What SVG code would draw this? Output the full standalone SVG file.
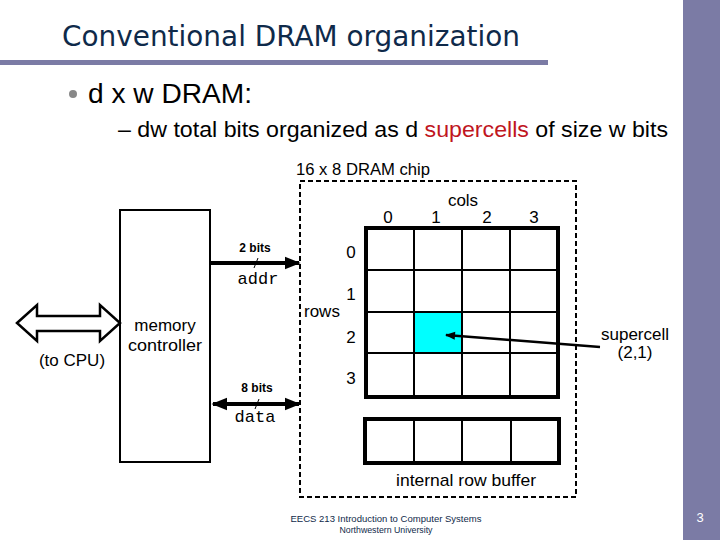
<svg xmlns="http://www.w3.org/2000/svg" width="720" height="540" viewBox="0 0 720 540">
<defs>
<style>
.a{font-family:"Liberation Sans",Arial,sans-serif;fill:#000}
.m{font-family:"Liberation Mono","Courier New",monospace;fill:#000}
.lbl{font-size:17px}
.thin{fill:none;stroke:#000;stroke-width:2}
</style>
<marker id="ah" viewBox="0 0 10 10" refX="9" refY="5" markerWidth="4" markerHeight="4" orient="auto-start-reverse" markerUnits="strokeWidth">
<path d="M0,1 L10,5 L0,9 z" fill="#000"/>
</marker>
<marker id="ah2" viewBox="0 0 10 10" refX="9" refY="5" markerWidth="5" markerHeight="4" orient="auto" markerUnits="strokeWidth">
<path d="M0,1 L10,5 L0,9 z" fill="#000"/>
</marker>
</defs>
<rect width="720" height="540" fill="#fff"/>
<rect x="683" y="0" width="37" height="540" fill="#7B7BA5"/>
<rect x="0" y="60" width="548" height="5" fill="#7B7BA5"/>
<text x="62" y="46" font-family="'DejaVu Sans',Verdana,sans-serif" font-size="28" fill="#0F2A4A" textLength="458" lengthAdjust="spacingAndGlyphs">Conventional DRAM organization</text>
<circle cx="73" cy="94" r="4" fill="#888"/>
<text class="a" x="88" y="103" font-size="27" textLength="164" lengthAdjust="spacingAndGlyphs">d x w DRAM:</text>
<text class="a" x="118" y="137" font-size="22" textLength="550" lengthAdjust="spacingAndGlyphs">– dw total bits organized as d <tspan fill="#C0161E">supercells</tspan> of size w bits</text>
<text class="a" x="296" y="175" font-size="16" textLength="134" lengthAdjust="spacingAndGlyphs">16 x 8 DRAM chip</text>

<g id="chip">
<rect x="300" y="181" width="276" height="316" fill="none" stroke="#000" stroke-width="2" stroke-dasharray="5,3"/>
</g>

<g id="array">
<rect x="414" y="312" width="48" height="41" fill="#00FFFF"/>
<path class="thin" d="M414,228V397M462,228V397M510,228V397M366,270H558M366,312H558M366,353H558"/>
<rect x="366" y="228" width="192" height="169" fill="none" stroke="#000" stroke-width="4"/>
<text class="a lbl" x="463" y="206" text-anchor="middle">cols</text>
<text class="a lbl" x="388" y="223" text-anchor="middle">0</text>
<text class="a lbl" x="436" y="223" text-anchor="middle">1</text>
<text class="a lbl" x="487" y="223" text-anchor="middle">2</text>
<text class="a lbl" x="534" y="223" text-anchor="middle">3</text>
<text class="a lbl" x="351" y="258" text-anchor="middle">0</text>
<text class="a lbl" x="351" y="300" text-anchor="middle">1</text>
<text class="a lbl" x="351" y="343" text-anchor="middle">2</text>
<text class="a lbl" x="351" y="384" text-anchor="middle">3</text>
<text class="a lbl" x="304" y="317">rows</text>
</g>

<g id="rowbuffer">
<path class="thin" d="M414,419V463M462,419V463M511,419V463"/>
<rect x="365" y="419" width="194" height="44" fill="none" stroke="#000" stroke-width="4"/>
<text class="a lbl" x="466" y="486" text-anchor="middle" textLength="140" lengthAdjust="spacingAndGlyphs">internal row buffer</text>
</g>

<g id="controller">
<rect x="120" y="210" width="90" height="252" fill="none" stroke="#000" stroke-width="2"/>
<text class="a lbl" x="165" y="331" text-anchor="middle">memory</text>
<text class="a lbl" x="165" y="351" text-anchor="middle" textLength="74" lengthAdjust="spacingAndGlyphs">controller</text>
</g>

<g id="cpu">
<polygon points="17,323 37,305 37,316 100,316 100,305 120,323 100,341 100,331 37,331 37,341" fill="#fff" stroke="#000" stroke-width="2.5" stroke-linejoin="miter"/>
<text class="a lbl" x="72" y="366" text-anchor="middle">(to CPU)</text>
</g>

<g id="supercell-label">
<text class="a lbl" x="635" y="340" text-anchor="middle">supercell</text>
<text class="a lbl" x="635" y="358" text-anchor="middle">(2,1)</text>
</g>

<g id="connectors">
<line x1="210" y1="263" x2="299" y2="263" stroke="#000" stroke-width="4" marker-end="url(#ah)"/>
<line x1="254" y1="268" x2="258" y2="258" stroke="#000" stroke-width="1"/>
<line x1="213" y1="404" x2="299" y2="404" stroke="#000" stroke-width="4" marker-start="url(#ah)" marker-end="url(#ah)"/>
<line x1="255" y1="409" x2="259" y2="399" stroke="#000" stroke-width="1"/>
<line x1="600" y1="347" x2="446" y2="335" stroke="#000" stroke-width="2.5" marker-end="url(#ah2)"/>
</g>
<text class="a" x="255" y="252" font-size="12" font-weight="bold" text-anchor="middle">2 bits</text>
<text class="m" x="258" y="284" font-size="17" text-anchor="middle">addr</text>
<text class="a" x="257" y="392" font-size="12" font-weight="bold" text-anchor="middle">8 bits</text>
<text class="m" x="255" y="422" font-size="17" text-anchor="middle">data</text>

<text class="a" x="386" y="522" font-size="9" text-anchor="middle" textLength="191" lengthAdjust="spacingAndGlyphs" style="fill:#0F2A4A">EECS 213 Introduction to Computer Systems</text>
<text class="a" x="386" y="533" font-size="9" text-anchor="middle" textLength="93" lengthAdjust="spacingAndGlyphs" style="fill:#0F2A4A">Northwestern University</text>
<text class="a" x="700" y="522" font-size="13" text-anchor="middle" style="fill:#fff">3</text>
</svg>
